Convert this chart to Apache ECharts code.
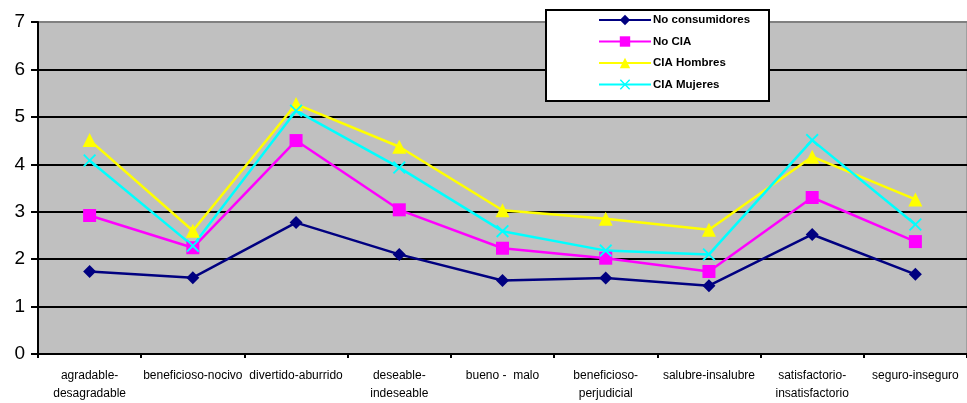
<!DOCTYPE html>
<html>
<head>
<meta charset="utf-8">
<script src="https://cdn.jsdelivr.net/npm/echarts@6/dist/echarts.min.js"></script>
<style>
  html, body { margin: 0; padding: 0; background: #ffffff; }
  #chart { width: 967px; height: 403px; }
</style>
</head>
<body>
<div id="chart"></div>
<script>
// Semantic differential pairs (categories)
const categories = [
  'agradable-\ndesagradable',
  'beneficioso-nocivo',
  'divertido-aburrido',
  'deseable-\nindeseable',
  'bueno -  malo',
  'beneficioso-\nperjudicial',
  'salubre-insalubre',
  'satisfactorio-\ninsatisfactorio',
  'seguro-inseguro'
];

// Mean scores per group
const noConsumidores = [1.74, 1.61, 2.77, 2.10, 1.55, 1.60, 1.44, 2.52, 1.68];
const noCIA          = [2.92, 2.24, 4.50, 3.04, 2.23, 2.02, 1.74, 3.30, 2.37];
const ciaHombres     = [4.51, 2.60, 5.27, 4.37, 3.03, 2.85, 2.62, 4.16, 3.26];
const ciaMujeres     = [4.08, 2.28, 5.13, 3.93, 2.59, 2.18, 2.10, 4.51, 2.73];

const yTicks = [0, 1, 2, 3, 4, 5, 6, 7];

// Filled "x" cross marker
const crossPath = 'path://M0,1L1,0L5,4L9,0L10,1L6,5L10,9L9,10L5,6L1,10L0,9L4,5Z';

function lineSeries(name, data, color, symbol, size) {
  return {
    name: name,
    type: 'line',
    data: data,
    symbol: symbol,
    symbolSize: size,
    showAllSymbol: true,
    lineStyle: { color: color, width: 2.5 },
    itemStyle: { color: color },
    emphasis: { disabled: true },
    z: 3
  };
}

const chart = echarts.init(document.getElementById('chart'), null, { renderer: 'canvas' });

chart.setOption({
  animation: false,
  textStyle: { fontFamily: 'Liberation Sans, Arial, sans-serif' },
  grid: {
    left: 38, right: -2, top: 22, bottom: 49,
    show: true,
    backgroundColor: '#c0c0c0',
    borderColor: '#808080',
    borderWidth: 1
  },
  graphic: [{
    type: 'rect',
    left: 545, top: 9,
    shape: { width: 223, height: 91 },
    style: { fill: '#ffffff', stroke: '#000000', lineWidth: 2 },
    z: 10
  }],
  legend: {
    orient: 'vertical',
    left: 598, top: 14,
    padding: 0,
    itemWidth: 52, itemHeight: 13,
    itemGap: 9.5,
    selectedMode: false,
    textStyle: { fontSize: 11.5, fontWeight: 'bold', color: '#000000', padding: [0, 0, 0, -3] },
    data: ['No consumidores', 'No CIA', 'CIA Hombres', 'CIA Mujeres'],
    z: 11
  },
  xAxis: {
    type: 'category',
    data: categories,
    boundaryGap: true,
    axisLine: { show: true, lineStyle: { color: '#000000', width: 2 } },
    axisTick: { show: true, alignWithLabel: false, length: 4, inside: false, lineStyle: { color: '#000000', width: 2 } },
    axisLabel: { interval: 0, fontSize: 12, lineHeight: 18, color: '#000000', margin: 13 },
    splitLine: { show: false }
  },
  yAxis: {
    type: 'value',
    min: yTicks[0],
    max: yTicks[yTicks.length - 1],
    interval: 1,
    axisLine: { show: true, lineStyle: { color: '#000000', width: 2 } },
    axisTick: { show: true, length: 7, lineStyle: { color: '#000000', width: 2 } },
    axisLabel: { fontSize: 19, color: '#000000', margin: 13 },
    splitLine: {
      show: true,
      lineStyle: {
        color: ['#000000', '#000000', '#000000', '#000000', '#000000', '#000000', '#000000', '#808080'],
        width: 2
      }
    }
  },
  series: [
    lineSeries('No consumidores', noConsumidores, '#000080', 'diamond', 13),
    lineSeries('No CIA', noCIA, '#ff00ff', 'rect', 13),
    lineSeries('CIA Hombres', ciaHombres, '#ffff00', 'triangle', 14),
    lineSeries('CIA Mujeres', ciaMujeres, '#00ffff', crossPath, 13)
  ]
});
</script>
</body>
</html>
